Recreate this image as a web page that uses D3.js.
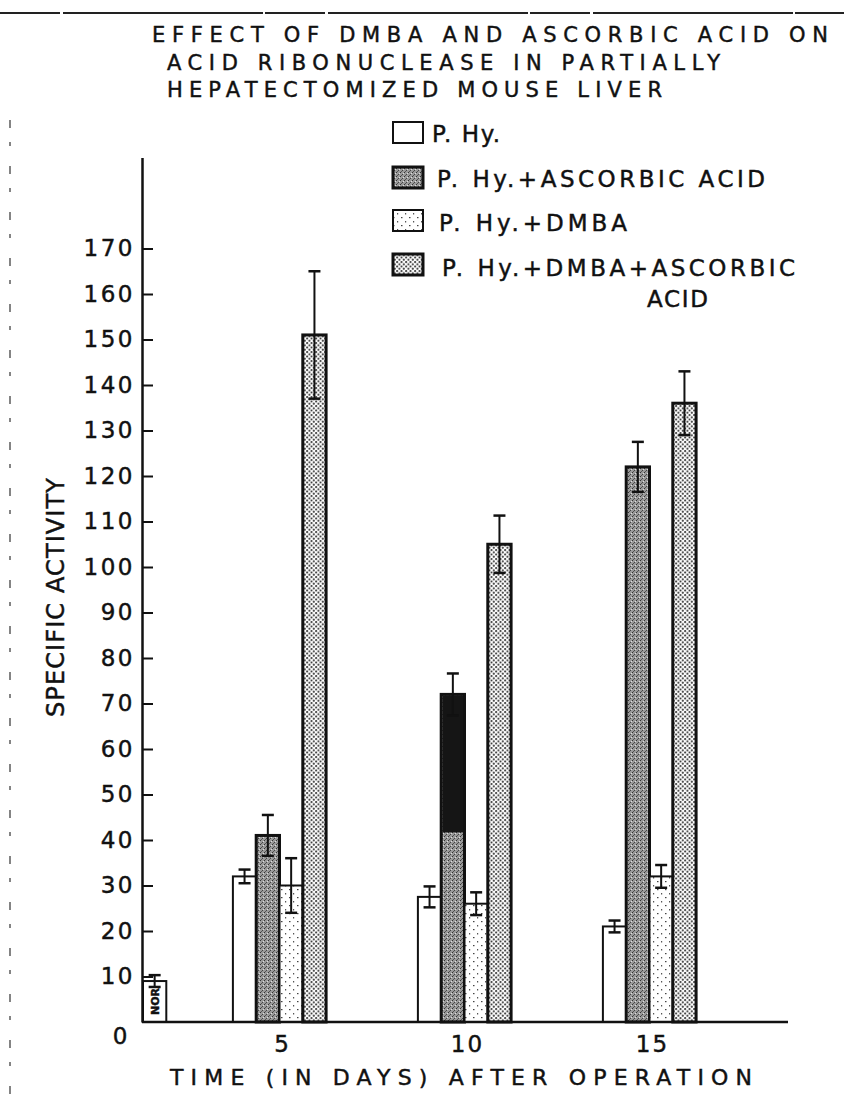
<!DOCTYPE html>
<html>
<head>
<meta charset="utf-8">
<script src="https://cdnjs.cloudflare.com/ajax/libs/d3/7.8.5/d3.min.js"></script>
<style>
  body { margin: 0; background: #fff; }
  svg { display: block; }
  text { font-family: "DejaVu Sans", sans-serif; fill: #111; stroke: #111; stroke-width: 0.45px; }
</style>
</head>
<body>
<svg id="chart" width="844" height="1110"></svg>
<script>
// values
const days = [5, 10, 15]
const seriesNames = ['P. Hy.', 'P. Hy.+ASCORBIC ACID', 'P. Hy.+DMBA', 'P. Hy.+DMBA+ASCORBIC ACID']
const pHy = [32, 27.5, 21]
const pHyAA = [41, 72, 122]
const pHyDMBA = [30, 26, 32]
const pHyDMBAAA = [151, 105, 136]
const pHyErr = [1.5, 2.3, 1.3]
const pHyAAErr = [4.5, 4.6, 5.5]
const pHyDMBAErr = [6, 2.5, 2.5]
const pHyDMBAAAErr = [14, 6.3, 7]
const normal = 9
const normalErr = 1.3
const yTicks = d3.range(0, 171, 10)
const titleLines = ['EFFECT OF  DMBA  AND  ASCORBIC  ACID ON', 'ACID RIBONUCLEASE IN PARTIALLY', 'HEPATECTOMIZED MOUSE LIVER']
const legendLines = ['P. Hy.', 'P. Hy.+ASCORBIC ACID', 'P. Hy.+DMBA', 'P. Hy.+DMBA+ASCORBIC', 'ACID']
// dark print blot on the day-10 ascorbic bar (value range)
const blot = [{ day: 10, s: 1, from: 42, to: 72 }]

const means = [pHy, pHyAA, pHyDMBA, pHyDMBAAA]
const errs = [pHyErr, pHyAAErr, pHyDMBAErr, pHyDMBAAAErr]
const fills = ['#fff', 'url(#p-aa)', 'url(#p-dmba)', 'url(#p-both)']
const strokeW = [2, 3, 2, 3]

const svg = d3.select('#chart')
const left = 142
const right = 788
const y = d3.scaleLinear().domain([0, 190]).range([1022, 157.5])
const x = d3.scaleLinear().domain([5, 15]).range([279.5, 649.5])
const barW = 23.3

// patterns
const defs = svg.append('defs')
const pa = defs.append('pattern').attr('id', 'p-aa').attr('patternUnits', 'userSpaceOnUse')
  .attr('width', 4).attr('height', 4)
pa.append('rect').attr('width', 4).attr('height', 4).attr('fill', '#9a9a9a')
pa.append('rect').attr('x', 0).attr('y', 0).attr('width', 1).attr('height', 1).attr('fill', '#333')
pa.append('rect').attr('x', 2).attr('y', 2).attr('width', 1).attr('height', 1).attr('fill', '#444')
pa.append('rect').attr('x', 3).attr('y', 1).attr('width', 1).attr('height', 1).attr('fill', '#ddd')
pa.append('rect').attr('x', 1).attr('y', 3).attr('width', 1).attr('height', 1).attr('fill', '#555')

const pd = defs.append('pattern').attr('id', 'p-dmba').attr('patternUnits', 'userSpaceOnUse')
  .attr('width', 8).attr('height', 8)
pd.append('rect').attr('width', 8).attr('height', 8).attr('fill', '#fff')
pd.append('rect').attr('x', 1).attr('y', 1).attr('width', 1.5).attr('height', 1.2).attr('fill', '#444')
pd.append('rect').attr('x', 5).attr('y', 5).attr('width', 1.2).attr('height', 1.5).attr('fill', '#555')

const pb = defs.append('pattern').attr('id', 'p-both').attr('patternUnits', 'userSpaceOnUse')
  .attr('width', 4.5).attr('height', 4.5)
pb.append('rect').attr('width', 4.5).attr('height', 4.5).attr('fill', '#fff')
pb.append('circle').attr('cx', 1.1).attr('cy', 1.1).attr('r', 1).attr('fill', '#222')
pb.append('circle').attr('cx', 3.35).attr('cy', 3.35).attr('r', 1).attr('fill', '#222')

// page edge marks of the scan
svg.append('line').attr('x1', 0).attr('x2', 844).attr('y1', 13).attr('y2', 13)
  .attr('stroke', '#222').attr('stroke-width', 2).attr('stroke-dasharray', '60,3,200,2')
svg.append('line').attr('x1', 10).attr('x2', 10).attr('y1', 120).attr('y2', 1100)
  .attr('stroke', '#333').attr('stroke-width', 1.2).attr('stroke-dasharray', '8,14,4,20')

// title
const titleX = [152, 167, 167]
const titleLen = [676, 553, 495]
svg.selectAll('.title').data(titleLines).join('text')
  .attr('class', 'title')
  .attr('x', (d, i) => titleX[i])
  .attr('y', (d, i) => 42 + i * 27.5)
  .attr('font-size', 21)
  .attr('textLength', (d, i) => titleLen[i])
  .attr('lengthAdjust', 'spacing')
  .text(d => d)

// legend
const legY = [122, 167, 210, 254]
const legBase = [142, 187, 231, 276, 307]
const legX = [432, 437, 439, 442, 647]
const legLen = [68, 328, 188, 353, 61]
svg.selectAll('.legbox').data(seriesNames).join('rect')
  .attr('class', 'legbox')
  .attr('x', 393).attr('y', (d, i) => legY[i])
  .attr('width', 30).attr('height', 21)
  .attr('fill', (d, i) => fills[i])
  .attr('stroke', '#111').attr('stroke-width', (d, i) => strokeW[i])
svg.selectAll('.legtext').data(legendLines).join('text')
  .attr('class', 'legtext')
  .attr('x', (d, i) => legX[i])
  .attr('y', (d, i) => legBase[i])
  .attr('font-size', 23)
  .attr('textLength', (d, i) => legLen[i])
  .attr('lengthAdjust', 'spacing')
  .text(d => d)

// bars
const barData = []
means.forEach((arr, s) => arr.forEach((v, i) => barData.push({ s, day: days[i], v, e: errs[s][i] })))
const bx = d => x(d.day) + (d.s - 2) * barW

const g = svg.append('g')
g.selectAll('.bar').data(barData).join('rect')
  .attr('class', 'bar')
  .attr('x', bx)
  .attr('y', d => y(d.v))
  .attr('width', barW)
  .attr('height', d => y(0) - y(d.v))
  .attr('fill', d => fills[d.s])
  .attr('stroke', '#111')
  .attr('stroke-width', d => strokeW[d.s])

g.selectAll('.blot').data(blot).join('rect')
  .attr('x', d => x(d.day) + (d.s - 2) * barW + 1.5)
  .attr('y', d => y(d.to) + 1.5)
  .attr('width', barW - 3)
  .attr('height', d => y(d.from) - y(d.to))
  .attr('fill', '#151515')

// normal
g.append('rect')
  .attr('x', left + 1).attr('y', y(normal))
  .attr('width', barW).attr('height', y(0) - y(normal))
  .attr('fill', '#fff').attr('stroke', '#111').attr('stroke-width', 2)
g.append('text')
  .attr('transform', `translate(${left + 1 + barW / 2},${(y(normal) + y(0)) / 2}) rotate(-90)`)
  .attr('text-anchor', 'middle').attr('dy', '0.35em')
  .attr('font-size', 11).attr('font-weight', 'bold')
  .text('NOR')

// error bars
const errData = barData.map(d => ({ cx: bx(d) + barW / 2, v: d.v, e: d.e }))
errData.push({ cx: left + 1 + barW / 2, v: normal, e: normalErr })
const eg = g.selectAll('.err').data(errData).join('g').attr('class', 'err')
eg.append('line')
  .attr('x1', d => d.cx).attr('x2', d => d.cx)
  .attr('y1', d => y(d.v + d.e)).attr('y2', d => y(d.v - d.e))
  .attr('stroke', '#111').attr('stroke-width', 2)
eg.selectAll('.cap').data(d => [d.v + d.e, d.v - d.e].map(t => ({ cx: d.cx, t }))).join('line')
  .attr('class', 'cap')
  .attr('x1', d => d.cx - 6).attr('x2', d => d.cx + 6)
  .attr('y1', d => y(d.t)).attr('y2', d => y(d.t))
  .attr('stroke', '#111').attr('stroke-width', 2.5)

// axes
const yAxis = d3.axisLeft(y).tickValues(yTicks).tickSize(-11).tickSizeOuter(0).tickPadding(7)
const ya = svg.append('g').attr('transform', `translate(${left},0)`).call(yAxis)
ya.select('.domain').attr('stroke', '#111').attr('stroke-width', 2.5)
ya.selectAll('.tick line').attr('stroke', '#111').attr('stroke-width', 2)
ya.selectAll('.tick text')
  .attr('font-family', '"DejaVu Sans", sans-serif')
  .attr('font-size', 23).attr('letter-spacing', 2.5).attr('fill', '#111')
ya.selectAll('.tick').filter(d => d === 0).select('line').remove()
ya.selectAll('.tick').filter(d => d === 0).select('text').attr('x', -12).attr('dy', '0.95em')

svg.append('line')
  .attr('x1', left).attr('x2', right).attr('y1', y(0)).attr('y2', y(0))
  .attr('stroke', '#111').attr('stroke-width', 2.5)

svg.selectAll('.xlab').data(days).join('text')
  .attr('class', 'xlab')
  .attr('x', d => x(d) + 3).attr('y', 1052)
  .attr('text-anchor', 'middle').attr('font-size', 23).attr('letter-spacing', 2)
  .text(d => d)

svg.append('text')
  .attr('x', 170).attr('y', 1085)
  .attr('font-size', 22)
  .attr('textLength', 582).attr('lengthAdjust', 'spacing')
  .text('TIME (IN DAYS) AFTER OPERATION')

svg.append('text')
  .attr('transform', 'translate(64,717) rotate(-90)')
  .attr('font-size', 24)
  .attr('textLength', 239).attr('lengthAdjust', 'spacing')
  .text('SPECIFIC ACTIVITY')
</script>
</body>
</html>
